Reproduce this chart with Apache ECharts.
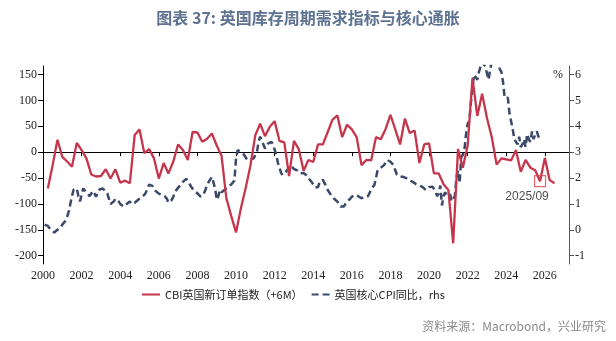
<!DOCTYPE html>
<html>
<head>
<meta charset="utf-8">
<script src="https://cdn.jsdelivr.net/npm/echarts@6/dist/echarts.min.js"></script>
<style>
html,body{margin:0;padding:0;background:#fff;}
#c{width:616px;height:341px;}
</style>
</head>
<body>
<div id="c"></div>
<script>
// ---- data ----
const titleText = '图表 37: 英国库存周期需求指标与核心通胀';
const seriesNames = ['CBI英国新订单指数（+6M）', '英国核心CPI同比，rhs'];
const sourceText = '资料来源：Macrobond，兴业研究';

// CBI new orders (+6M), quarterly, first point = 2000 Q1 end (Mar)
const cbiStartYear = 2000, cbiStartMonth = 3;
const cbiOrders = [
  -70, -25, 24, -9,
  -18, -28, 18, 4,
  -12, -43, -47, -46,
  -33, -51, -33, -59,
  -55, -60, 33, 44,
  -2, 6, -12, -51,
  -21, -41, -18, 15,
  4, -15, 39, 38,
  20, 26, 36, 13,
  -7, -89, -123, -155,
  -109, -69, -25, 33,
  55, 31, 49, 60,
  22, 19, -46, 22,
  6, -36, -15, -19,
  15, 15, 39, 63,
  71, 29, 53, 44,
  29, -25, -15, -16,
  29, 25, 45, 72,
  44, 15, 65, 37,
  42, -21, 15, 17,
  -41, -41, -62, -73,
  -176, 6, -30, 13,
  143, 70, 113, 66,
  29, -24, -12, -14,
  -16, 4, -38, -15,
  -30, -35, -56, -11,
  -54, -60
];

// UK core CPI y/y (%), monthly, first point = Jan 2000
const cpiStartYear = 2000, cpiStartMonth = 1;
const coreCpi = [
  0.2, 0.2, 0.15, 0.1, 0.0, -0.05, -0.1, -0.05, 0.0, 0.05, 0.1, 0.2,      // 2000
  0.25, 0.35, 0.5, 0.7, 1.0, 1.3, 1.55, 1.6, 1.6, 1.3, 1.1, 1.35,         // 2001
  1.6, 1.55, 1.45, 1.4, 1.3, 1.3, 1.5, 1.4, 1.28, 1.45, 1.55, 1.5,        // 2002
  1.6, 1.6, 1.5, 1.4, 1.2, 1.0, 0.95, 1.1, 1.2, 1.2, 1.1, 1.0,            // 2003
  0.95, 0.9, 0.96, 1.0, 1.05, 1.1, 1.0, 0.98, 1.05, 1.1, 1.15, 1.2,       // 2004
  1.25, 1.3, 1.35, 1.45, 1.6, 1.75, 1.8, 1.7, 1.6, 1.5, 1.45, 1.4,        // 2005
  1.37, 1.35, 1.3, 1.28, 1.2, 1.05, 1.05, 1.15, 1.28, 1.45, 1.55, 1.6,    // 2006
  1.7, 1.75, 1.85, 1.9, 1.97, 1.9, 1.8, 1.67, 1.6, 1.5, 1.45, 1.41,       // 2007
  1.35, 1.28, 1.28, 1.4, 1.55, 1.73, 1.85, 1.95, 2.05, 2.0, 1.6, 1.16,    // 2008
  1.3, 1.54, 1.45, 1.5, 1.55, 1.6, 1.67, 1.7, 1.75, 1.8, 1.9, 2.76,       // 2009
  3.08, 3.05, 3.0, 2.96, 2.9, 2.8, 2.7, 2.7, 2.72, 2.76, 2.76, 2.9,       // 2010
  3.0, 3.4, 3.6, 3.55, 3.3, 3.14, 3.2, 3.34, 3.35, 3.4, 3.3, 3.1,         // 2011
  2.9, 2.6, 2.4, 2.2, 2.12, 2.15, 2.25, 2.3, 2.4, 2.5, 2.45, 2.35,        // 2012
  2.35, 2.3, 2.25, 2.18, 2.18, 2.2, 2.15, 2.1, 2.0, 1.93, 1.85, 1.75,     // 2013
  1.65, 1.6, 1.65, 1.86, 1.9, 1.93, 1.8, 1.7, 1.54, 1.5, 1.35, 1.3,       // 2014
  1.2, 1.15, 1.09, 1.0, 0.9, 0.83, 0.9, 1.0, 1.09, 1.15, 1.2, 1.28,       // 2015
  1.3, 1.35, 1.35, 1.3, 1.25, 1.22, 1.25, 1.28, 1.28, 1.3, 1.35, 1.55,    // 2016
  1.65, 1.73, 2.0, 2.3, 2.37, 2.4, 2.44, 2.5, 2.6, 2.7, 2.65, 2.63,       // 2017
  2.63, 2.5, 2.3, 2.14, 2.1, 2.05, 2.05, 2.05, 2.0, 1.99, 1.95, 1.9,      // 2018
  1.86, 1.85, 1.8, 1.76, 1.75, 1.72, 1.71, 1.65, 1.6, 1.54, 1.6, 1.65,    // 2019
  1.6, 1.67, 1.6, 1.5, 1.3, 1.4, 1.71, 0.94, 1.3, 1.45, 1.35, 1.4,        // 2020
  1.4, 1.1, 1.1, 1.3, 2.0, 2.3, 1.8, 2.8, 2.9, 3.1, 3.7, 4.1,             // 2021
  4.2, 4.9, 5.5, 6.0, 5.9, 5.8, 6.1, 6.3, 6.5, 6.5, 6.3, 6.3,             // 2022
  5.8, 6.2, 6.2, 6.8, 7.1, 6.9, 6.9, 6.2, 6.1, 5.7, 5.1, 5.1,             // 2023
  5.1, 4.5, 4.2, 3.9, 3.5, 3.5, 3.3, 3.6, 3.2, 3.3, 3.5, 3.2,             // 2024
  3.7, 3.5, 3.4, 3.8, 3.5, 3.7, 3.8, 3.6, 3.5                             // 2025
];

const xTickYears = [2000, 2002, 2004, 2006, 2008, 2010, 2012, 2014, 2016, 2018, 2020, 2022, 2024, 2026];
const leftTicks = [-200, -150, -100, -50, 0, 50, 100, 150];
const rightTicks = [-1, 0, 1, 2, 3, 4, 5, 6];
const annotationLabel = '2025/09';
const annotationIndex = 102; // position of 2025/09 in cbiOrders

// ---- build ----
const cbiData = cbiOrders.map((v, i) => [cbiStartYear + (cbiStartMonth + 3 * i) / 12, v]);
const cpiData = coreCpi.map((v, i) => [cpiStartYear + (cpiStartMonth + i) / 12, v]);

const RED = '#c5364c';
const NAVY = '#3a4869';
const axisFont = { fontFamily: 'Liberation Serif', fontSize: 12, color: '#222' };

const chart = echarts.init(document.getElementById('c'), null, { renderer: 'canvas' });
chart.setOption({
  animation: false,
  backgroundColor: '#fff',
  title: {
    text: titleText,
    left: 'center',
    top: 5,
    textStyle: { fontFamily: 'Noto Sans CJK SC', fontSize: 16, fontWeight: 'bold', color: '#5d7190' }
  },
  graphic: [{
    type: 'text',
    right: 10,
    top: 320,
    style: { text: sourceText, fill: '#8a8a8a', font: '12px "Noto Sans CJK SC"' }
  }],
  legend: {
    left: 136,
    top: 284,
    itemWidth: 18,
    itemHeight: 8,
    itemGap: 8,
    data: seriesNames,
    itemStyle: { opacity: 0 },
    textStyle: { fontFamily: 'Noto Sans CJK SC', fontSize: 11, color: '#222' }
  },
  grid: { left: 43, right: 47, top: 66, bottom: 77 },
  xAxis: {
    type: 'value',
    min: 2000,
    max: 2027.25,
    axisLine: { show: true, lineStyle: { color: '#000', width: 1 } },
    axisTick: { show: true, length: 4, customValues: xTickYears, lineStyle: { color: '#000' } },
    axisLabel: { customValues: xTickYears, formatter: v => String(v), margin: 6, ...axisFont },
    splitLine: { show: false }
  },
  yAxis: [{
    type: 'value',
    min: -216,
    max: 166.5,
    axisLine: { show: true, lineStyle: { color: '#000', width: 1 } },
    axisTick: { show: true, length: 5, customValues: leftTicks, lineStyle: { color: '#000' } },
    axisLabel: { customValues: leftTicks, margin: 6, ...axisFont },
    splitLine: { show: false }
  }, {
    type: 'value',
    position: 'right',
    min: -1.32,
    max: 6.33,
    name: '%',
    nameLocation: 'end',
    nameGap: -3,
    nameTextStyle: { align: 'right', verticalAlign: 'top', padding: [0, 6, 0, 0], fontFamily: 'Liberation Serif', fontSize: 12, color: '#222' },
    axisLine: { show: true, lineStyle: { color: '#555', width: 1 } },
    axisTick: { show: true, length: 5, customValues: rightTicks, lineStyle: { color: '#555' } },
    axisLabel: { customValues: rightTicks, margin: 6, ...axisFont },
    splitLine: { show: false }
  }],
  series: [{
    name: seriesNames[0],
    type: 'line',
    yAxisIndex: 0,
    data: cbiData,
    symbol: 'none',
    clip: true,
    lineStyle: { color: RED, width: 2.3 },
    itemStyle: { color: RED },
    z: 3
  }, {
    name: seriesNames[1],
    type: 'line',
    yAxisIndex: 1,
    data: cpiData,
    symbol: 'none',
    clip: true,
    lineStyle: { color: NAVY, width: 2.5, type: [7, 4] },
    itemStyle: { color: NAVY },
    z: 2
  }, {
    type: 'scatter',
    yAxisIndex: 0,
    data: [cbiData[annotationIndex]],
    symbol: 'rect',
    symbolSize: 11,
    itemStyle: { color: 'rgba(0,0,0,0)', borderColor: '#e0404a', borderWidth: 1.2 },
    label: {
      show: true,
      position: 'bottom',
      distance: 3,
      offset: [-13, 0],
      formatter: () => annotationLabel,
      fontFamily: 'Liberation Sans',
      fontSize: 12,
      color: '#222'
    },
    z: 4
  }]
});
</script>
</body>
</html>
